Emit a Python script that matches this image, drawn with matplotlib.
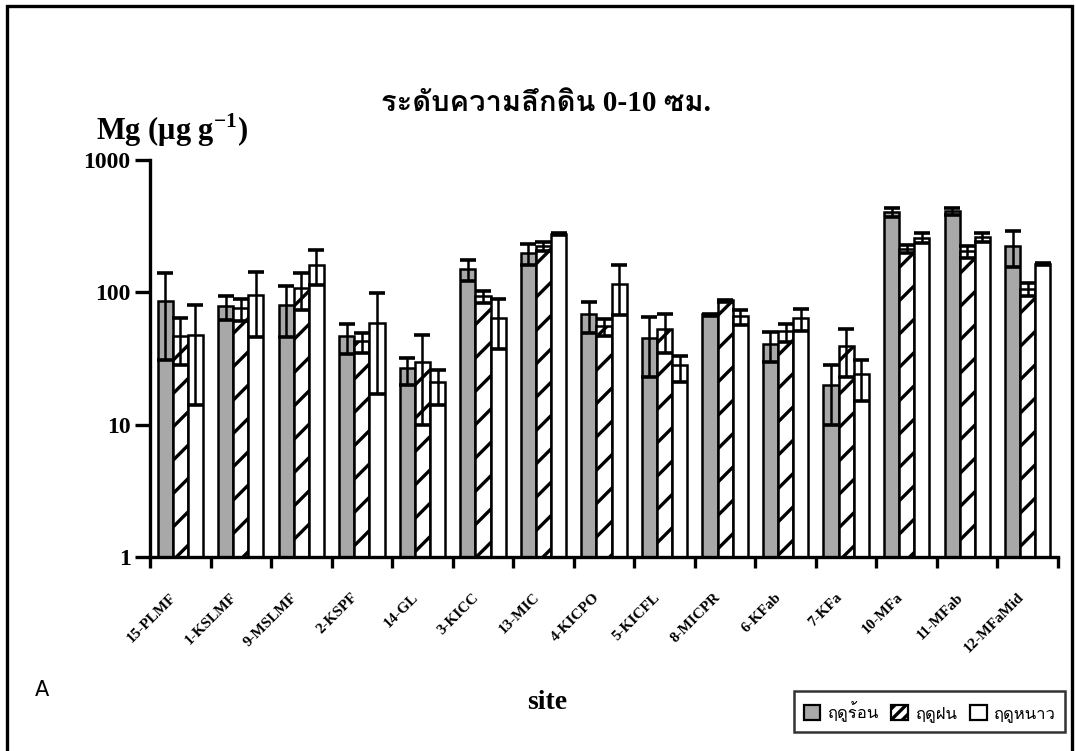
import matplotlib
matplotlib.use("Agg")
import matplotlib.pyplot as plt
from matplotlib import font_manager
from matplotlib.ft2font import FT2Font
from matplotlib.patches import Patch, Rectangle
import numpy as np

sites = ["15-PLMF", "1-KSLMF", "9-MSLMF", "2-KSPF", "14-GL", "3-KICC", "13-MIC",
         "4-KICPO", "5-KICFL", "8-MICPR", "6-KFab", "7-KFa", "10-MFa", "11-MFab",
         "12-MFaMid"]
seasons = ["ฤดูร้อน", "ฤดูฝน", "ฤดูหนาว"]

hot = [85, 78, 79, 46, 26, 148, 197, 67, 44, 67, 40, 19, 400, 412, 224]
hot_err = [54, 16, 33, 12, 6, 26, 35, 18, 21, 1, 10, 9, 30, 25, 69]
rain = [46, 75, 106, 42, 29, 93, 222, 55, 52, 86, 50, 38, 212, 203, 105]
rain_err = [18, 14, 33, 7, 19, 10, 16, 8, 17, 1, 8, 15, 15, 20, 12]
cold = [47, 94, 161, 58, 20, 63, 275, 114, 27, 65, 63, 23, 258, 260, 164]
cold_err = [33, 48, 48, 41, 6, 26, 5, 47, 6, 8, 12, 8, 22, 22, 3]


def find_thai_font():
    for f in font_manager.fontManager.ttflist:
        try:
            cmap = FT2Font(f.fname).get_charmap()
        except Exception:
            continue
        if 0x0E23 in cmap and 0x0E14 in cmap:
            return f.name
    return "DejaVu Sans"


thai = find_thai_font()
plt.rcParams["font.family"] = ["Liberation Serif", thai, "DejaVu Serif"]
plt.rcParams["hatch.linewidth"] = 2.4
plt.rcParams["mathtext.fontset"] = "custom"
plt.rcParams["mathtext.rm"] = "Liberation Serif:bold"
plt.rcParams["mathtext.bf"] = "Liberation Serif:bold"

fig = plt.figure(figsize=(10.76, 7.51), dpi=100)
ax = fig.add_axes([0.1394, 0.2583, 0.8439, 0.5287])

x = np.arange(len(sites)) + 0.5
w = 0.25
styles = [
    dict(facecolor="#a8a8a8", edgecolor="black"),
    dict(facecolor="white", hatch="/", edgecolor="black"),
    dict(facecolor="white", edgecolor="black"),
]
for k, (vals, errs) in enumerate([(hot, hot_err), (rain, rain_err), (cold, cold_err)]):
    pos = x + (k - 1) * w
    ax.bar(pos, vals, w, bottom=1, linewidth=1.8, **styles[k])
    ax.errorbar(pos, vals, yerr=errs, fmt="none", ecolor="black",
                elinewidth=1.8, capsize=6, capthick=2.6)

ax.set_yscale("log")
ax.set_ylim(1, 1000)
ax.set_xlim(0, len(sites))
ax.set_yticks([1, 10, 100, 1000])
ax.set_yticklabels(["1", "10", "100", "1000"], fontsize=17, fontweight="bold")
ax.yaxis.set_minor_locator(matplotlib.ticker.NullLocator())
ax.set_xticks(np.arange(len(sites) + 1))
ax.set_xticklabels([])
for xi, s in zip(x, sites):
    ax.text(xi - 0.18, -0.085, s, transform=ax.get_xaxis_transform(),
            rotation=45, ha="right", va="top", fontsize=11, fontweight="bold",
            rotation_mode="anchor")

for side in ["top", "right"]:
    ax.spines[side].set_visible(False)
ax.spines["left"].set_linewidth(2.4)
ax.spines["bottom"].set_linewidth(2.4)
ax.tick_params(axis="y", length=11, width=2.4, pad=3)
ax.tick_params(axis="x", length=8, width=2.4)

fig.text(0.507, 0.862, "ระดับความลึกดิน 0-10 ซม.", ha="center", va="center",
         fontsize=21, fontweight="bold")
fig.text(0.089, 0.826, r"Mg ($\mathbf{\mu}$g g$^{\mathbf{-1}}$)", ha="left",
         va="center", fontsize=22, fontweight="bold")
fig.text(0.509, 0.064, "site", ha="center", va="center", fontsize=20,
         fontweight="bold")
fig.text(0.032, 0.081, "A", ha="left", va="center", fontsize=15,
         family="DejaVu Sans")

handles = [Patch(linewidth=1.6, **s) for s in styles]
handles[1].set_hatch("///")
leg = fig.legend(handles=handles, labels=seasons, ncol=3,
                 loc="lower right", bbox_to_anchor=(0.990, 0.025),
                 borderaxespad=0, frameon=True, fancybox=False,
                 handlelength=1.0, handleheight=1.0, handletextpad=0.4,
                 columnspacing=0.8, borderpad=0.6,
                 prop={"family": [thai, "Liberation Serif"], "size": 12})
leg.get_frame().set_edgecolor("black")
leg.get_frame().set_linewidth(1.8)

# page frame, bottom edge falls outside the canvas
fig.patches.append(Rectangle((7 / 1076, -0.05), 1065 / 1076, 1.05 - 6 / 751,
                             transform=fig.transFigure, fill=False,
                             linewidth=2.4, edgecolor="black"))

fig.savefig("out.png", dpi=100)
